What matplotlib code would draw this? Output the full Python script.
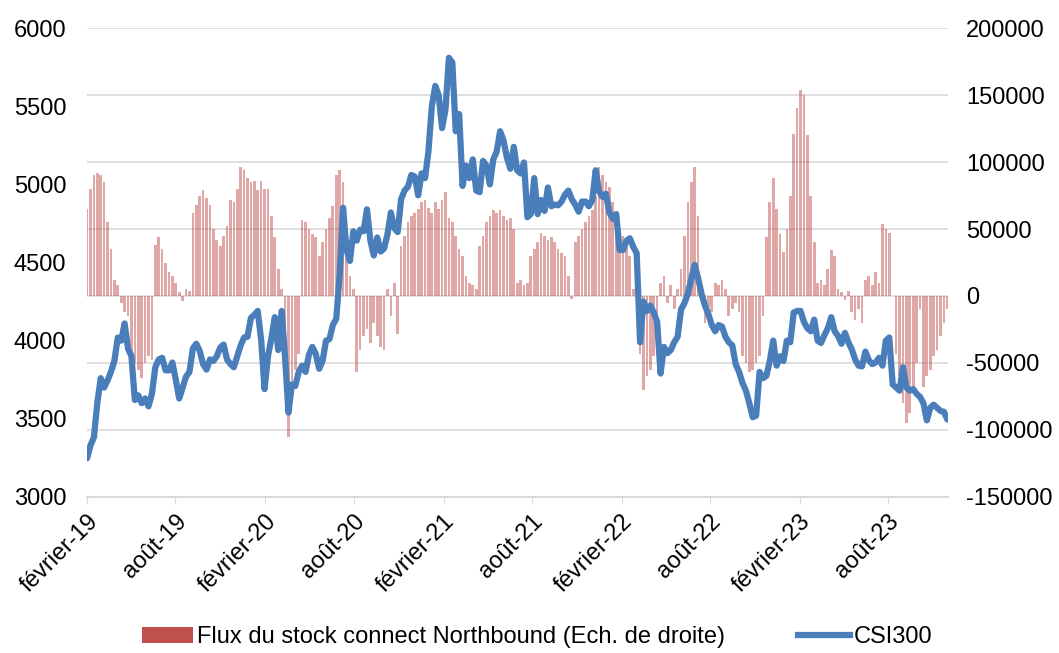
import numpy as np
import pandas as pd
import matplotlib
matplotlib.use('Agg')
import matplotlib.pyplot as plt
from matplotlib.patches import Patch
from matplotlib.lines import Line2D

plt.rcParams['font.family'] = ['Liberation Sans', 'DejaVu Sans']

# weekly points, first Friday = 1 Feb 2019
dates = pd.date_range('2019-02-01', periods=253, freq='7D')

# CSI300 index level (weekly)
csi300 = [
    3247, 3330, 3380, 3600, 3760, 3700, 3745, 3800, 3870, 4020,   # 0-9
    4000, 4110, 3950, 3900, 3620, 3650, 3600, 3630, 3580, 3660,   # 10-19
    3830, 3880, 3890, 3810, 3810, 3860, 3750, 3630, 3700, 3770,   # 20-29
    3800, 3950, 3980, 3935, 3850, 3815, 3880, 3870, 3900, 3955,   # 30-39
    3975, 3880, 3850, 3830, 3900, 3970, 4020, 4025, 4145, 4165,   # 40-49
    4190, 4005, 3690, 3900, 4016, 4150, 3940, 4190, 3895, 3540,   # 50-59
    3720, 3710, 3800, 3840, 3800, 3910, 3960, 3915, 3820, 3870,   # 60-69
    4000, 4010, 4100, 4140, 4420, 4850, 4580, 4510, 4700, 4640,   # 70-79
    4710, 4700, 4840, 4640, 4545, 4660, 4570, 4590, 4680, 4820,   # 80-89
    4720, 4695, 4905, 4960, 4985, 5060, 5050, 4930, 5070, 5040,   # 90-99
    5210, 5500, 5630, 5570, 5360, 5480, 5810, 5780, 5340, 5450,   # 100-109
    4990, 5120, 5040, 5160, 4960, 4950, 5150, 5120, 5000, 5160,   # 110-119
    5210, 5340, 5280, 5170, 5100, 5240, 5090, 5070, 5140, 4790,   # 120-129
    4810, 5040, 4810, 4900, 4830, 4980, 4860, 4870, 4866, 4890,   # 130-139
    4935, 4960, 4905, 4870, 4825, 4890, 4890, 4860, 4900, 5090,   # 140-149
    4955, 4920, 4940, 4820, 4780, 4810, 4580, 4580, 4640, 4655,   # 150-159
    4600, 4560, 3990, 4250, 4190, 4225, 4180, 4120, 3790, 3960,   # 160-169
    3920, 3940, 3990, 4025, 4200, 4240, 4300, 4395, 4485, 4400,   # 170-179
    4300, 4225, 4170, 4100, 4060, 4100, 4090, 4025, 3990, 3970,   # 180-189
    3850, 3800, 3730, 3680, 3600, 3510, 3520, 3800, 3760, 3775,   # 190-199
    3870, 4000, 3840, 3900, 3870, 4000, 3990, 4180, 4190, 4190,   # 200-209
    4120, 4080, 4060, 4135, 4000, 3985, 4035, 4080, 4150, 4060,   # 210-219
    4030, 3980, 4050, 3990, 3945, 3880, 3840, 3835, 3930, 3875,   # 220-229
    3850, 3860, 3890, 3840, 4000, 4020, 3720, 3700, 3680, 3830,   # 230-239
    3700, 3680, 3690, 3660, 3640, 3600, 3490, 3570, 3590, 3570,   # 240-249
    3550, 3545, 3495,                                             # 250-252
]

# Northbound stock connect flows, rolling (CNY mn, in thousands)
flux_k = [
    65, 80, 90, 92, 90, 85, 55, 35, 12, 8,                        # 0-9
    -5, -12, -15, -45, -50, -55, -61, -50, -45, -48,              # 10-19
    38, 44, 35, 25, 18, 15, 10, 3, -4, 5,                         # 20-29
    4, 62, 68, 75, 79, 73, 68, 50, 42, 37,                        # 30-39
    45, 52, 72, 70, 80, 96, 94, 88, 85, 86,                       # 40-49
    79, 86, 80, 80, 60, 44, 20, 5, -45, -105,                     # 50-59
    -68, -55, -43, 57, 55, 50, 46, 44, 30, 40,                    # 60-69
    50, 58, 67, 90, 94, 85, 30, 15, 5, -57,                       # 70-79
    -40, -30, -25, -35, -20, -30, -38, -40, 5, -15,               # 80-89
    10, -28, 37, 45, 55, 60, 62, 65, 70, 72,                      # 90-99
    66, 62, 70, 65, 72, 78, 58, 55, 45, 35,                       # 100-109
    30, 15, 10, 8, 5, 37, 45, 55, 60, 64,                         # 110-119
    62, 64, 60, 57, 58, 50, 10, 12, 8, 10,                        # 120-129
    30, 35, 40, 47, 45, 42, 44, 40, 35, 32,                       # 130-139
    30, 15, -2, 40, 45, 50, 55, 60, 64, 75,                       # 140-149
    96, 90, 85, 81, 70, 60, 50, 45, 40, 30,                       # 150-159
    5, 0, -43, -70, -60, -55, -45, -25, 10, 15,                   # 160-169
    -5, 8, -10, 5, 20, 45, 70, 85, 96, 60,                        # 170-179
    5, -20, -8, -12, 10, 8, 12, 5, -15, -10,                      # 180-189
    -5, -12, -45, -50, -57, -55, -50, -45, -15, 44,               # 190-199
    70, 88, 65, 46, 33, 50, 75, 121, 140, 154,                    # 200-209
    150, 120, 75, 40, 10, 12, 8, 20, 34, 30,                      # 210-219
    5, 3, -3, 4, -12, -18, -10, -20, 12, 15,                      # 220-229
    8, 18, 10, 54, 50, 47, 0, -43, -60, -80,                      # 230-239
    -95, -87, -70, -50, -10, -68, -60, -55, -45, -40,             # 240-249
    -30, -20, -10,                                                # 250-252
]

tick_dates = pd.date_range('2019-02-01', '2023-08-01', freq='6MS')
tick_labels = ['février-19', 'août-19', 'février-20', 'août-20', 'février-21',
               'août-21', 'février-22', 'août-22', 'février-23', 'août-23']

flux = np.array(flux_k) * 1000

blue = '#4a7ebb'
red = '#c0504d'
grey = '#d9d9d9'
fs = 17

fig = plt.figure(figsize=(10.59, 6.53), dpi=100)
ax = fig.add_axes([0.0822, 0.239, 0.8128, 0.718])
ax2 = ax.twinx()

# bars on the right scale, behind the index line
ax2.bar(dates, flux, width=5.5, color=red, alpha=0.5, linewidth=0)
ax2.set_ylim(-150000, 200000)
ax2.set_yticks(np.arange(-150000, 200001, 50000))
ax2.yaxis.set_major_formatter(matplotlib.ticker.FuncFormatter(lambda v, p: f'{int(v)}'))

ax.plot(dates, csi300, color=blue, linewidth=4.5, solid_joinstyle='round', solid_capstyle='round')
ax.set_ylim(3000, 6000)
ax.set_yticks(np.arange(3000, 6001, 500))
ax.set_zorder(ax2.get_zorder() + 1)
ax.patch.set_visible(False)

ax2.grid(axis='y', color=grey, linewidth=1.2)
ax2.set_axisbelow(True)

ax.set_xlim(pd.Timestamp('2019-02-01'), pd.Timestamp('2023-12-02'))
ax.set_xticks(tick_dates)
ax.set_xticklabels(tick_labels, rotation=45, ha='right', rotation_mode='anchor')

for a in (ax, ax2):
    for s in ('top', 'left', 'right'):
        a.spines[s].set_visible(False)
    a.spines['bottom'].set_color(grey)
    a.spines['bottom'].set_linewidth(1.2)
ax.tick_params(axis='y', length=0, labelsize=fs, pad=15)
ax2.tick_params(axis='y', length=0, labelsize=fs, pad=13)
ax.tick_params(axis='x', length=5, color=grey, labelsize=fs, pad=5)
ax2.tick_params(axis='x', length=0)

handles = [Patch(facecolor=red, edgecolor='none'),
           Line2D([0], [0], color=blue, linewidth=4.5)]
fig.legend(handles, ['Flux du stock connect Northbound (Ech. de droite)', 'CSI300'],
           loc='lower center', bbox_to_anchor=(0.507, -0.025), ncol=2, frameon=False,
           fontsize=fs, handlelength=2.2, handletextpad=0.15, columnspacing=3.1)

fig.savefig('out.png', dpi=100)
